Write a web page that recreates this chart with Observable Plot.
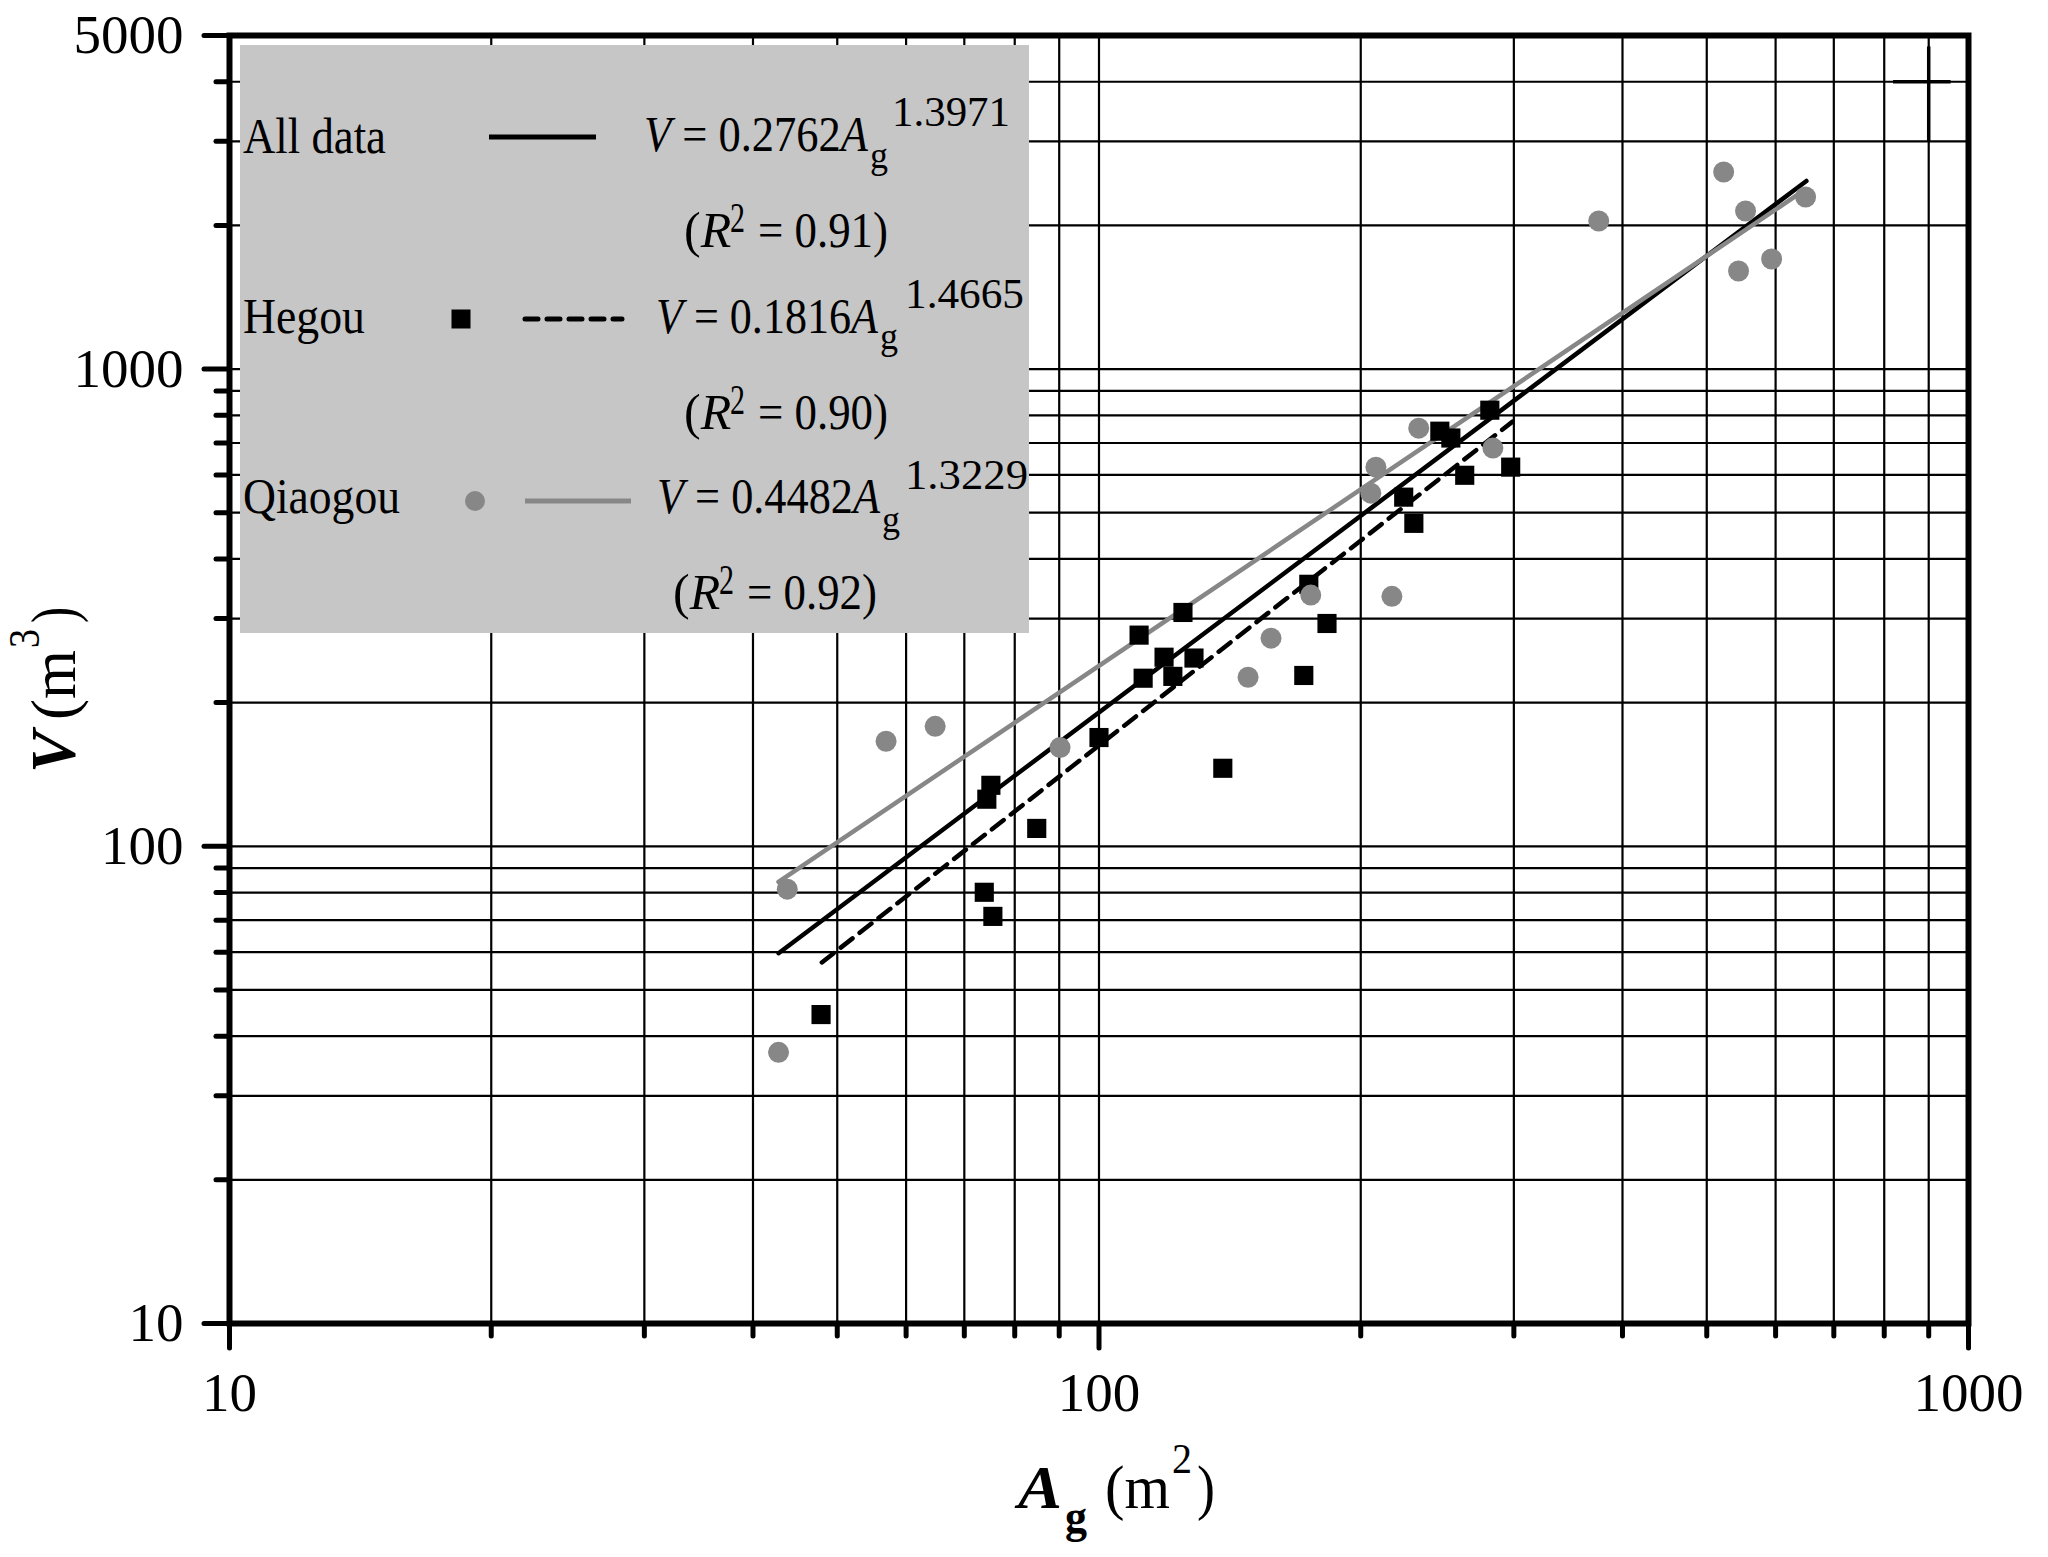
<!DOCTYPE html>
<html><head><meta charset="utf-8">
<script src="https://cdn.jsdelivr.net/npm/d3@7"></script>
<script src="https://cdn.jsdelivr.net/npm/@observablehq/plot@0.6"></script>
<style>
html,body{margin:0;padding:0;background:#fff;}
#chart{position:relative;width:2048px;height:1557px;}
svg{display:block;}
svg text{font-family:"Liberation Serif", serif !important;}
</style></head><body><div id="chart"></div>
<script>
// ---- Data ----
const hegouA = [47.9, 73.8, 75.5, 74.3, 75.1, 84.8, 100, 138.8, 111.2, 124.9, 118.8, 112.4, 121.6, 128.6, 174.3, 182.9, 172.0, 224.1, 230.2, 246.6, 253.9, 263.4, 281.5, 297.5];
const hegouV = [44.4, 80.1, 71.3, 125.5, 134.2, 109, 169, 145.7, 277, 309, 249, 225, 227, 248, 354, 293, 228, 539, 475, 741, 717, 599, 820, 623];
const qiaoA = [42.8, 43.8, 56.9, 64.8, 90.2, 148.4, 157.7, 175.2, 217.2, 205.4, 208.2, 233.2, 283.8, 375.6, 522.9, 554.1, 593.7, 543.9, 649.6];
const qiaoV = [37.0, 81.3, 166, 178.4, 161, 226, 273, 336, 334, 549.5, 623, 752, 683, 2043, 2588, 2144, 1701, 1605, 2294];
// fitted lines: end points as drawn
const fitAllA = [42.8, 651], fitAllV = [59.7, 2478];
const fitHegouA = [48.0, 299], fitHegouV = [57.1, 776];
const fitQiaoA = [42.8, 643], fitQiaoV = [84.2, 2350];
// legend texts
const seriesNames = ["All data", "Hegou", "Qiaogou"];
const coefs = ["0.2762", "0.1816", "0.4482"];
const exponents = ["1.3971", "1.4665", "1.3229"];
const r2s = ["0.91", "0.90", "0.92"];
// ticks / grid
const xGrid = [20,30,40,50,60,70,80,90,100,200,300,400,500,600,700,800,900];
const xMinor = [20,30,40,50,60,70,80,90,200,300,400,500,600,700,800,900];
const xMajor = [10,100,1000];
const yGrid = [20,30,40,50,60,70,80,90,100,200,300,400,500,600,700,800,900,1000,2000,3000,4000];
const yMinor = [20,30,40,50,60,70,80,90,200,300,400,500,600,700,800,900,2000,3000,4000];
const yMajor = [10,100,1000,5000];
// small cross mark at upper right
const crossX = [900], crossVy = [2992, 4732];
const crossY = [4000], crossHx = [820, 955];

const pts = (A, V) => A.map((a, i) => ({a, v: V[i]}));
const font = "Liberation Serif";
const grey = "#878787";

const chart = Plot.plot({
  width: 2048, height: 1557,
  marginLeft: 229, marginRight: 80, marginTop: 35, marginBottom: 234,
  x: {type: "log", domain: [10, 1000]},
  y: {type: "log", domain: [10, 5000]},
  style: {fontFamily: font, background: "white", color: "black"},
  marks: [
    Plot.ruleX(xGrid, {x: d => d, stroke: "black", strokeWidth: 2.2}),
    Plot.ruleY(yGrid, {y: d => d, stroke: "black", strokeWidth: 2.2}),
    Plot.ruleX(crossX, {x: d => d, y1: crossVy[0], y2: crossVy[1], stroke: "black", strokeWidth: 3.5}),
    Plot.ruleY(crossY, {y: d => d, x1: crossHx[0], x2: crossHx[1], stroke: "black", strokeWidth: 3.5}),
    Plot.line(pts(fitAllA, fitAllV), {x: "a", y: "v", stroke: "black", strokeWidth: 4.5}),
    Plot.line(pts(fitHegouA, fitHegouV), {x: "a", y: "v", stroke: "black", strokeWidth: 4.5, strokeDasharray: "15,9"}),
    Plot.line(pts(fitQiaoA, fitQiaoV), {x: "a", y: "v", stroke: grey, strokeWidth: 4.5}),
    Plot.dot(pts(hegouA, hegouV), {x: "a", y: "v", symbol: "square", r: 10.8, fill: "black", stroke: "none"}),
    Plot.dot(pts(qiaoA, qiaoV), {x: "a", y: "v", r: 10.5, fill: grey, stroke: "none"}),
    Plot.frame({stroke: "black", strokeWidth: 6}),
    Plot.axisX(xMinor, {tickSize: 13, tickFormat: () => "", strokeWidth: 5, label: null}),
    Plot.axisX(xMajor, {tickSize: 25, tickPadding: 23, fontSize: 55, fontFamily: font, tickFormat: d => String(d), strokeWidth: 5, label: null}),
    Plot.axisY(yMinor, {tickSize: 13, tickFormat: () => "", strokeWidth: 5, label: null}),
    Plot.axisY(yMajor, {tickSize: 25, tickPadding: 21, fontSize: 55, fontFamily: font, tickFormat: d => String(d), strokeWidth: 5, label: null})
  ]
});
document.getElementById("chart").appendChild(chart);

const svg = d3.select(chart);
// make ticks bold with round caps
svg.selectAll('g[aria-label="x-axis tick"], g[aria-label="y-axis tick"]')
  .attr("stroke-width", 5).attr("stroke-linecap", "round");

const g = svg.append("g").attr("font-family", font).attr("fill", "black").attr("text-anchor", "start");

function txt(parent, x, y, s, size, opts = {}) {
  const t = parent.append("text").attr("x", x).attr("y", y).attr("font-size", size).attr("text-anchor", "start").text(s);
  if (opts.italic) t.attr("font-style", "italic");
  if (opts.bold) t.attr("font-weight", "bold");
  if (opts.len) t.attr("textLength", opts.len).attr("lengthAdjust", "spacingAndGlyphs");
  if (opts.fill) t.attr("fill", opts.fill);
  return t;
}

// ---- Legend ----
g.append("rect").attr("x", 240).attr("y", 45).attr("width", 789).attr("height", 588).attr("fill", "#c6c6c6");
const nameBase = [153, 333, 513];
const nameLen = [143, 122, 157];
const sampleY = [137, 319, 501];
const eqX = [644, 656, 657], eqBase = [151, 333, 513], eqLen = [224, 222, 223];
const subX = [870, 880, 882], subBase = [168, 349, 532];
const supX = [892, 905, 905], supBase = [126, 308, 489], supLen = [118, 119, 123];
const rX = [684, 684, 673], rBase = [247, 429, 609];

for (let i = 0; i < 3; i++) {
  txt(g, 243, nameBase[i], seriesNames[i], 50, {len: nameLen[i]});
  const eq = g.append("text").attr("x", eqX[i]).attr("y", eqBase[i]).attr("font-size", 50).attr("text-anchor", "start")
    .attr("textLength", eqLen[i]).attr("lengthAdjust", "spacingAndGlyphs");
  eq.append("tspan").attr("font-style", "italic").text("V");
  eq.append("tspan").text(" = " + coefs[i]);
  eq.append("tspan").attr("font-style", "italic").text("A");
  txt(g, subX[i], subBase[i], "g", 38, {len: 18});
  txt(g, supX[i], supBase[i], exponents[i], 43, {len: supLen[i]});
  const r = g.append("text").attr("x", rX[i]).attr("y", rBase[i]).attr("font-size", 50).attr("text-anchor", "start");
  r.append("tspan").text("(");
  r.append("tspan").attr("font-style", "italic").text("R");
  txt(g, rX[i] + 46, rBase[i] - 15, "2", 42, {len: 15});
  txt(g, rX[i] + 74, rBase[i], "= " + r2s[i] + ")", 50, {len: 130});
}
// legend samples
g.append("line").attr("x1", 489).attr("x2", 596).attr("y1", sampleY[0]).attr("y2", sampleY[0])
  .attr("stroke", "black").attr("stroke-width", 5);
g.append("rect").attr("x", 451.5).attr("y", sampleY[1] - 9.5).attr("width", 19).attr("height", 19).attr("fill", "black");
g.append("line").attr("x1", 525).attr("x2", 622).attr("y1", sampleY[1]).attr("y2", sampleY[1])
  .attr("stroke", "black").attr("stroke-width", 5).attr("stroke-dasharray", "13,9").attr("stroke-linecap", "round");
g.append("circle").attr("cx", 475).attr("cy", sampleY[2]).attr("r", 10).attr("fill", grey);
g.append("line").attr("x1", 525).attr("x2", 631).attr("y1", sampleY[2]).attr("y2", sampleY[2])
  .attr("stroke", grey).attr("stroke-width", 5);

// ---- Axis titles ----
txt(g, 1018, 1508, "A", 62, {italic: true, bold: true, len: 44});
txt(g, 1065, 1532, "g", 46, {bold: true, len: 22});
txt(g, 1105, 1508, "(m", 62, {len: 65});
txt(g, 1172, 1473, "2", 42, {len: 20});
txt(g, 1197, 1508, ")", 62, {len: 18});

const yt = g.append("g").attr("transform", "translate(75,773) rotate(-90)");
txt(yt, 0, 0, "V", 64, {italic: true, bold: true, len: 42});
txt(yt, 53, 0, "(m", 64, {len: 70});
txt(yt, 125, -36, "3", 44, {len: 19});
txt(yt, 150, 0, ")", 64, {len: 16});

// force serif on every text (tick labels included)
svg.selectAll("text").attr("font-family", font).style("font-family", font);
</script>
</body></html>
